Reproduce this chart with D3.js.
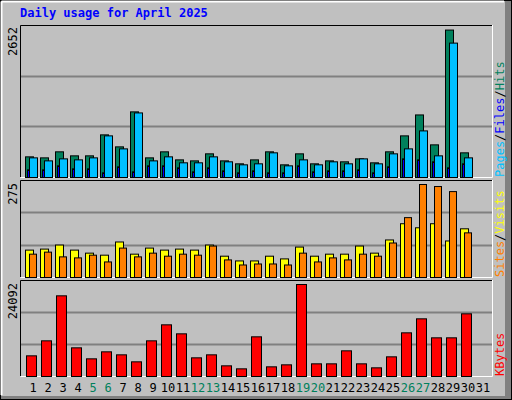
<!DOCTYPE html>
<html><head><meta charset="utf-8">
<script src="https://cdn.jsdelivr.net/npm/d3@7"></script>
<style>body{margin:0;background:#fff}</style></head>
<body><svg id="c" width="512" height="400"></svg>
<script>
const days = d3.range(1,32);
const weekend = [5,6,12,13,19,20,26,27];
const hits  = [370,352,460,388,388,764,549,1176,352,460,316,298,424,298,245,316,460,227,424,245,298,281,334,263,460,746,1121,585,2642,442,0];
const files = [352,298,334,316,352,746,513,1157,298,370,263,263,370,281,227,245,442,209,316,227,281,245,334,245,424,513,835,388,2408,352,0];
const pages = [137,137,209,155,155,84,191,101,209,209,173,101,173,119,84,119,84,84,209,101,119,119,137,84,191,334,316,281,173,245,0];
const visits= [81,84,96,81,72,66,105,69,87,81,84,81,96,63,49,49,63,55,90,63,69,69,93,72,111,159,147,159,108,144,0];
const sites = [69,75,61,58,66,46,87,61,72,63,69,66,93,52,37,40,40,37,72,46,58,52,69,63,102,177,275,269,254,132,0];
const kbytes= [5412,9341,21127,7508,4627,6460,5674,3841,9341,13532,11174,4889,5674,2794,2008,10389,2532,3056,24092,3317,3317,6722,3317,2270,5151,11436,15103,10127,10127,16412,0];
const maxHits=2652, maxSites=275, maxK=24092;

const svg=d3.select("#c");
const mono="'DejaVu Sans Mono', monospace";
// frame
svg.append("rect").attr("x",0).attr("y",0).attr("width",512).attr("height",400).attr("fill","#C0C0C0");
svg.append("rect").attr("x",505).attr("y",0).attr("width",7).attr("height",400).attr("fill","#808080");
svg.append("rect").attr("x",0).attr("y",396).attr("width",512).attr("height",4).attr("fill","#808080");
svg.append("rect").attr("x",0.5).attr("y",0.5).attr("width",511).attr("height",399).attr("fill","none").attr("stroke","#000");
svg.append("line").attr("x1",1.5).attr("y1",1.5).attr("x2",504).attr("y2",1.5).attr("stroke","#fff").attr("stroke-width",2);
svg.append("line").attr("x1",1.5).attr("y1",1.5).attr("x2",1.5).attr("y2",395).attr("stroke","#fff").attr("stroke-width",2);

svg.append("text").attr("x",20).attr("y",17).attr("font-family",mono).attr("font-weight","bold")
  .attr("font-size",12).attr("fill","#0000FF").text("Daily usage for April 2025");

const x=d3.scaleLinear().domain([1,31]).range([25,475]);
const panels=[{t:25,b:177},{t:180,b:277},{t:280,b:376}];
panels.forEach(p=>{
  svg.append("rect").attr("x",20).attr("y",p.t).attr("width",472).attr("height",p.b-p.t).attr("fill","#C0C0C0");
  [1,2].forEach(i=>{const gy=Math.round(p.b-(p.b-p.t)*i/3)+0.5;
    svg.append("line").attr("x1",20).attr("x2",492).attr("y1",gy).attr("y2",gy).attr("stroke","#808080").attr("stroke-width",2);});
  svg.append("path").attr("d",`M20.5,${p.b}V${p.t+0.5}H492`).attr("fill","none").attr("stroke","#000");
  svg.append("path").attr("d",`M20.5,${p.b+0.5}H492.5V${p.t}`).attr("fill","none").attr("stroke","#fff");
});

function bars(data,y,dx,w,color,bottom){
  svg.append("g").selectAll("rect").data(data.map((v,i)=>({v,d:i+1})).filter(o=>o.v>0)).join("rect")
    .attr("x",o=>x(o.d)+dx+0.5).attr("y",o=>y(o.v)+0.5).attr("width",w)
    .attr("height",o=>bottom-y(o.v)).attr("fill",color).attr("stroke","#000");
}
const y1=d3.scaleLinear().domain([0,maxHits]).range([177,29]);
bars(hits,y1,0,8,"#00805C",177);
bars(files,y1,4,8,"#00C0FF",177);
bars(pages,y1,2,2,"#0000FF",177);
const y2=d3.scaleLinear().domain([0,maxSites]).range([277,184]);
bars(visits,y2,0,8,"#FFFF00",277);
bars(sites,y2,4,7,"#FF8000",277);
const y3=d3.scaleLinear().domain([0,maxK]).range([376,284]);
bars(kbytes,y3,1,10,"#FF0000",376);

// left max labels
[[maxHits,27],[maxSites,183],[maxK,283]].forEach(([v,yy])=>{
  svg.append("text").attr("transform",`translate(17,${yy}) rotate(-90)`).attr("text-anchor","end")
    .attr("font-family",mono).attr("font-size",12).attr("fill","#000").text(v);
});
// right legends
function legend(parts,yEnd){
  const t=svg.append("text").attr("transform",`translate(496,${yEnd}) rotate(90)`).attr("text-anchor","end")
    .attr("font-family",mono).attr("font-size",12);
  parts.forEach(([s,c])=>t.append("tspan").attr("fill",c).text(s));
}
const lg=(parts,yBottom)=>{
  const t=svg.append("text").attr("transform",`translate(504,${yBottom}) rotate(-90)`)
    .attr("font-family",mono).attr("font-size",12);
  parts.forEach(([s,c])=>t.append("tspan").attr("fill",c).text(s));
};
lg([["Pages","#00C0FF"],["/","#000"],["Files","#0000FF"],["/","#000"],["Hits","#00805C"]],177);
lg([["Sites","#FF8000"],["/","#000"],["Visits","#FFFF00"]],277);
lg([["KBytes","#FF0000"]],376);

// day labels
svg.append("g").selectAll("text").data(days).join("text")
  .attr("x",d=>x(d)+8).attr("y",392).attr("text-anchor","middle")
  .attr("font-family",mono).attr("font-size",12)
  .attr("fill",d=>weekend.includes(d)?"#00805C":"#000").text(d=>d);
</script></body></html>
